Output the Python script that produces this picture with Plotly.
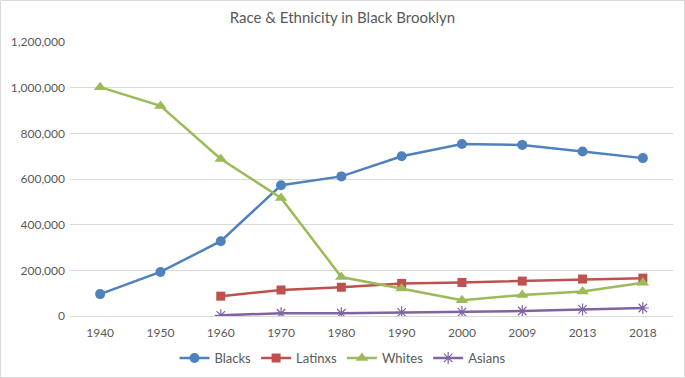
import plotly.graph_objects as go

years = ["1940", "1950", "1960", "1970", "1980", "1990", "2000", "2009", "2013", "2018"]
blacks = [96000, 193000, 328000, 573000, 612000, 700000, 754000, 750000, 721000, 692000]
latinxs = [None, None, 87000, 114000, 126000, 143000, 147000, 153000, 162000, 166000]
whites = [1003000, 921000, 688000, 517000, 171000, 120000, 69000, 92000, 107000, 146000]
asians = [None, None, 3000, 12000, 12000, 16000, 17000, 22000, 29000, 35000]
y_ticks = [0, 200000, 400000, 600000, 800000, 1000000, 1200000]

FONT = "Lato, Open Sans, sans-serif"
GREY = "#595959"

fig = go.Figure()
series = [
    ("Blacks", blacks, "#4F81BD", dict(symbol="circle", size=10)),
    ("Latinxs", latinxs, "#C0504D", dict(symbol="square", size=9)),
    ("Whites", whites, "#9BBB59", dict(symbol="triangle-up", size=11)),
    ("Asians", asians, "#8064A2", dict(symbol="asterisk-open", size=10, line=dict(width=1.2, color="#8064A2"))),
]
for name, vals, color, marker in series:
    m = dict(color=color, **marker)
    fig.add_trace(go.Scatter(
        x=years, y=vals, name=name, mode="lines+markers",
        line=dict(color=color, width=2.5), marker=m,
    ))

L, R, T, B = 70, 12, 42, 62
W, H = 685, 378
pw, ph = W - L - R, H - T - B

fig.update_layout(
    width=W, height=H,
    margin=dict(l=L, r=R, t=T, b=B, autoexpand=False),
    paper_bgcolor="white", plot_bgcolor="white",
    font=dict(family=FONT, color=GREY, size=12),
    title=dict(text="Race & Ethnicity in Black Brooklyn", x=0.5, xanchor="center",
               y=1 - 18 / H, yanchor="middle", font=dict(size=15, color=GREY, family=FONT)),
    xaxis=dict(type="category", range=[-0.5, 9.5], showgrid=False, showline=True,
               linecolor="#D9D9D9", linewidth=1, ticks="", tickfont=dict(size=12, color=GREY),
               ticklabelstandoff=6),
    yaxis=dict(range=[0, 1201000], tickvals=y_ticks, tickformat=",d", showgrid=True,
               gridcolor="#D9D9D9", gridwidth=1, zeroline=False, showline=False,
               tickfont=dict(size=12, color=GREY), ticklabelstandoff=4),
    legend=dict(orientation="h", xref="container", x=0.5, xanchor="center",
                yref="container", y=20 / H, yanchor="middle",
                font=dict(size=13, color=GREY), itemwidth=30, tracegroupgap=0),
    shapes=[dict(type="rect", xref="paper", yref="paper",
                 x0=-(L - 0.5) / pw, x1=1 + (R - 0.5) / pw,
                 y0=-(B - 0.5) / ph, y1=1 + (T - 0.5) / ph,
                 line=dict(color="#D9D9D9", width=1), layer="below")],
)

fig.write_html("out.html", config={"displayModeBar": False},
               post_script="document.body.style.margin='0';document.body.style.padding='0';")
